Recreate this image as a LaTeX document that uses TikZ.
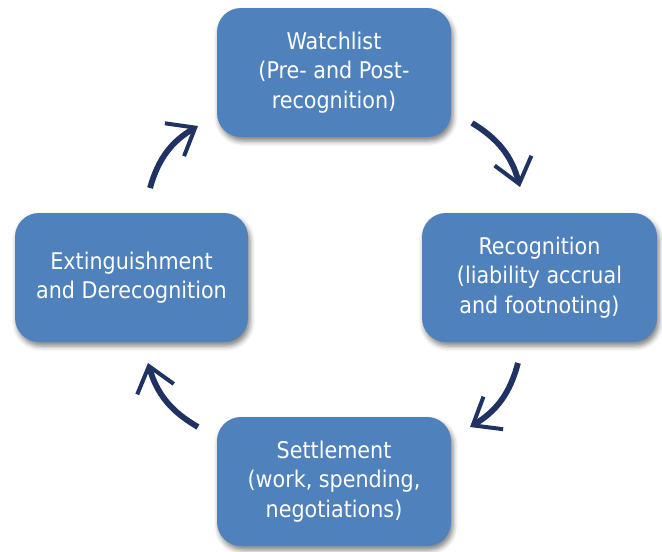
\documentclass[tikz,border=0pt]{standalone}
\usepackage{fontspec}
\setmainfont{DejaVu Sans Condensed}
\usetikzlibrary{shadows.blur,arrows.meta}
\definecolor{boxblue}{HTML}{4F81BD}
\definecolor{navy}{HTML}{1F3263}
\tikzset{
  stage/.style={draw=none, fill=boxblue, rounded corners=24pt, minimum width=234pt, minimum height=129pt,
    align=center, text=white, font=\fontsize{23pt}{29.5pt}\selectfont,
    blur shadow={shadow xshift=2pt, shadow yshift=-4pt, shadow blur radius=5pt, shadow opacity=50}},
  cyc/.style={draw=navy, line width=5.8pt, bend left=22,
    -{Straight Barb[length=24pt,width=38pt,line width=4pt]}}
}
\begin{document}
\begin{tikzpicture}[x=1pt,y=-1pt]
\useasboundingbox (0,0) rectangle (662,552);
\node[stage] (watch) at (334,72.5) {Watchlist\\(Pre- and Post-\\recognition)};
\node[stage, minimum width=235pt] (recog) at (539.5,277.5) {Recognition\\(liability accrual\\and footnoting)};
\node[stage] (settle) at (334,481.5) {Settlement\\(work, spending,\\negotiations)};
\node[stage, minimum width=233pt] (ext) at (131.5,277.5) {Extinguishment\\and Derecognition};
\coordinate (a1s) at (472,123);
\coordinate (a1e) at (520,187);
\coordinate (a2s) at (518,363);
\coordinate (a2e) at (470,427);
\coordinate (a3s) at (198,427);
\coordinate (a3e) at (148,363);
\coordinate (a4s) at (150,188);
\coordinate (a4e) at (198,126);
\draw[cyc] (a1s) to (a1e);
\draw[cyc] (a2s) to (a2e);
\draw[cyc] (a3s) to (a3e);
\draw[cyc] (a4s) to (a4e);
\end{tikzpicture}
\end{document}
